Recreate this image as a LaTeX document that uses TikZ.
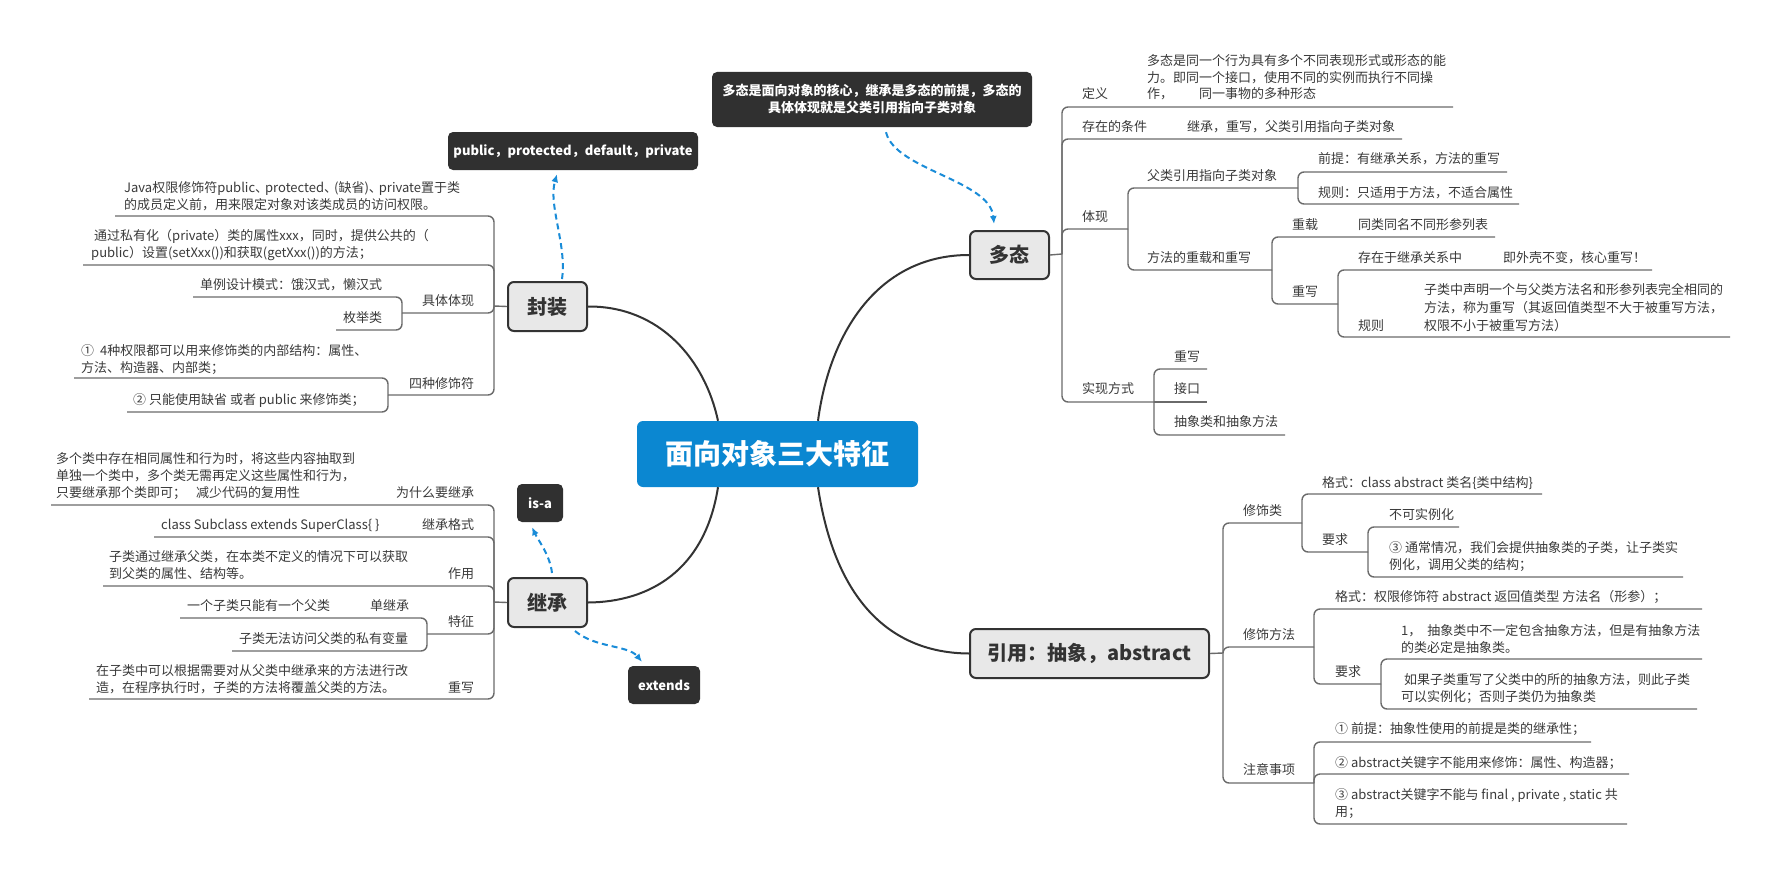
\documentclass[tikz,border=0pt]{standalone}
\usepackage{fontspec}
\setmainfont{Noto Sans CJK SC}
\usetikzlibrary{arrows.meta}
\definecolor{ctrblue}{HTML}{0B87D1}
\definecolor{arrblue}{HTML}{1A8CD8}
\definecolor{darkbox}{HTML}{303030}
\definecolor{mainfill}{HTML}{E8E8E8}
\definecolor{mainline}{HTML}{333333}
\definecolor{treeline}{HTML}{6A6A6A}
\definecolor{txt}{HTML}{3A3A3A}
\tikzset{
  lbl/.style={font=\fontsize{13}{17}\selectfont, text=txt, inner sep=0pt, anchor=base west, align=left},
  mainnode/.style={draw=mainline, line width=2pt, fill=mainfill, rounded corners=6pt, font=\fontsize{20}{24}\selectfont\bfseries, text=mainline, inner sep=0pt},
  darknode/.style={fill=darkbox, rounded corners=5pt, font=\fontsize{13}{17}\selectfont\bfseries, text=white, inner sep=0pt, align=center},
  tree/.style={draw=treeline, line width=1.4pt, rounded corners=6pt},
  curve/.style={draw=mainline, line width=2pt},
  dasharrow/.style={draw=arrblue, line width=2pt, dash pattern=on 6pt off 4pt, -{Latex[length=8pt,width=7pt]}},
}
\begin{document}
\begin{tikzpicture}[x=1pt,y=-1pt]
\useasboundingbox (0,0) rectangle (1780,875);
\fill[white] (0,0) rectangle (1780,875);

% ---------- main nodes ----------
\node[fill=ctrblue, rounded corners=6pt, minimum width=281pt, minimum height=66pt, inner sep=0pt, font=\fontsize{28}{32}\selectfont\bfseries, text=white] (root) at (777.5,454) {面向对象三大特征};
\node[mainnode, minimum width=79pt, minimum height=49pt] (fz) at (547.5,306.5) {封装};
\node[mainnode, minimum width=79pt, minimum height=49pt] (jc) at (547.5,602.5) {继承};
\node[mainnode, minimum width=79pt, minimum height=48pt] (dt) at (1009.5,255) {多态};
\node[mainnode, minimum width=239pt, minimum height=49pt] (yy) at (1089.5,653.5) {引用：抽象，abstract};

\node[darknode, minimum width=320pt, minimum height=55pt] (note) at (872,99.5) {多态是面向对象的核心，继承是多态的前提，多态的\\具体体现就是父类引用指向子类对象};
\node[darknode, minimum width=250pt, minimum height=38pt] (pub) at (573,151) {public，protected，default，private};
\node[darknode, minimum width=46pt, minimum height=38pt] (isa) at (540,503) {is-a};
\node[darknode, minimum width=72pt, minimum height=38pt] (ext) at (664,685) {extends};

% ---------- main curves ----------
\draw[curve] ([xshift=-59.5pt]root.north) .. controls (705,360) and (660,306) .. (fz.east);
\draw[curve] ([xshift=40.5pt]root.north) .. controls (830,330) and (880,255) .. (dt.west);
\draw[curve] ([xshift=-59.5pt]root.south) .. controls (705,570) and (650,602) .. (jc.east);
\draw[curve] ([xshift=40.5pt]root.south) .. controls (835,600) and (890,653) .. (yy.west);

% ---------- dashed arrows ----------
\draw[dasharrow] ([xshift=14pt,yshift=-5pt]note.south) .. controls (895,170) and (990,180) .. ([xshift=-15.5pt,yshift=6pt]dt.north);
\draw[dasharrow] ([xshift=14.5pt,yshift=2pt]fz.north) .. controls (567,245) and (548,205) .. ([xshift=-16pt,yshift=-4pt]pub.south);
\draw[dasharrow] ([xshift=4.5pt,yshift=4pt]jc.north) .. controls (550,555) and (538,540) .. ([xshift=-8pt,yshift=-5pt]isa.south);
\draw[dasharrow] ([xshift=27.5pt,yshift=-3pt]jc.south) .. controls (595,648) and (628,645) .. ([xshift=-22pt,yshift=4pt]ext.north);

% ---------- 封装 ----------
\coordinate (fzJ) at (494,306);
\draw[tree] (fz.west) -- (fzJ);
\node[lbl] (fz1) at (124,209) {Java权限修饰符public、\kern-3pt protected、\kern-3pt(缺省)、\kern-3pt private置于类\\的成员定义前，用来限定对象对该类成员的访问权限。};
\draw[tree] (fzJ) |- (115,216);
\node[lbl] (fz2) at (91,257) {\hspace*{3pt}通过私有化（private）类的属性xxx，同时，提供公共的（\\public）设置(setXxx())和获取(getXxx())的方法；};
\draw[tree] (fzJ) |- (83,265);
\node[lbl] (fz3) at (422,305) {具体体现};
\draw[tree] (fzJ) |- (402,313) coordinate (fz3J);
\node[lbl] (fz31) at (200,289) {单例设计模式：饿汉式，懒汉式};
\draw[tree] (fz3J) |- (193,297);
\node[lbl] (fz32) at (343,322) {枚举类};
\draw[tree] (fz3J) |- (336,330);
\node[lbl] (fz4) at (409,388) {四种修饰符};
\draw[tree] (fzJ) |- (388,395) coordinate (fz4J);
\node[lbl] (fz41) at (81,372) {①\hspace{6pt}4种权限都可以用来修饰类的内部结构：属性、\\方法、构造器、内部类；};
\draw[tree] (fz4J) |- (74,378);
\node[lbl] (fz42) at (133,404) {② 只能使用缺省 或者 public 来修饰类；};
\draw[tree] (fz4J) |- (127,412);

% ---------- 继承 ----------
\coordinate (jcJ) at (494,602);
\draw[tree] (jc.west) -- (jcJ);
\node[lbl] (jc1) at (56,497) {多个类中存在相同属性和行为时，将这些内容抽取到\\单独一个类中，多个类无需再定义这些属性和行为，\\只要继承那个类即可；\hspace{10pt}减少代码的复用性};
\node[lbl] (jc1l) at (396,497) {为什么要继承};
\draw[tree] (jcJ) |- (51,505);
\node[lbl] (jc2) at (161,529) {class Subclass extends SuperClass\{ \}};
\node[lbl] (jc2l) at (422,529) {继承格式};
\draw[tree] (jcJ) |- (154,537);
\node[lbl] (jc3) at (109,578) {子类通过继承父类，在本类不定义的情况下可以获取\\到父类的属性、结构等。};
\node[lbl] (jc3l) at (448,578) {作用};
\draw[tree] (jcJ) |- (103,586);
\node[lbl] (jc4l) at (448,626) {特征};
\draw[tree] (jcJ) |- (427,634) coordinate (jc4J);
\node[lbl] (jc41) at (187,610) {一个子类只能有一个父类};
\node[lbl] (jc41l) at (370,610) {单继承};
\draw[tree] (jc4J) |- (180,618);
\node[lbl] (jc42) at (239,643) {子类无法访问父类的私有变量};
\draw[tree] (jc4J) |- (232,651);
\node[lbl] (jc5) at (96,692) {在子类中可以根据需要对从父类中继承来的方法进行改\\造，在程序执行时，子类的方法将覆盖父类的方法。};
\node[lbl] (jc5l) at (448,692) {重写};
\draw[tree] (jcJ) |- (89,699);

% ---------- 多态 ----------
\coordinate (dtJ) at (1062,254);
\draw[tree] (dt.east) -- (dtJ);
\node[lbl] (d1l) at (1082,99) {定义};
\node[lbl, font=\fontsize{13}{16.5}\selectfont] (d1) at (1147,99) {多态是同一个行为具有多个不同表现形式或形态的能\\力。即同一个接口，使用不同的实例而执行不同操\\作，\hspace{26pt}同一事物的多种形态};
\draw[tree] (dtJ) |- (1453,107);
\node[lbl] (d2l) at (1082,131) {存在的条件};
\node[lbl] (d2) at (1187,131) {继承，重写，父类引用指向子类对象};
\draw[tree] (dtJ) |- (1402,139);
\node[lbl] (d3l) at (1082,221) {体现};
\draw[tree] (dtJ) |- (1128,229) coordinate (d3J);
\node[lbl] (d31l) at (1147,180) {父类引用指向子类对象};
\draw[tree] (d3J) |- (1298,188) coordinate (d31J);
\node[lbl] (d311) at (1318,163) {前提：有继承关系，方法的重写};
\draw[tree] (d31J) |- (1507,172);
\node[lbl] (d312) at (1318,197) {规则：只适用于方法，不适合属性};
\draw[tree] (d31J) |- (1519,204);
\node[lbl] (d32l) at (1147,262) {方法的重载和重写};
\draw[tree] (d3J) |- (1272,270) coordinate (d32J);
\node[lbl] (d321l) at (1292,229) {重载};
\node[lbl] (d321) at (1358,229) {同类同名不同形参列表};
\draw[tree] (d32J) |- (1495,237);
\node[lbl] (d322l) at (1292,296) {重写};
\draw[tree] (d32J) |- (1338,304) coordinate (d322J);
\node[lbl] (d3221l) at (1358,262) {存在于继承关系中};
\node[lbl] (d3221) at (1503,262) {即外壳不变，核心重写！};
\draw[tree] (d322J) |- (1652,270);
\node[lbl] (d3222l) at (1358,330) {规则};
\node[lbl, font=\fontsize{13}{18}\selectfont] (d3222) at (1424,330) {子类中声明一个与父类方法名和形参列表完全相同的\\方法，称为重写（其返回值类型不大于被重写方法，\\权限不小于被重写方法）};
\draw[tree] (d322J) |- (1730,337);
\node[lbl] (d4l) at (1082,393) {实现方式};
\draw[tree] (dtJ) |- (1154,402) coordinate (d4J);
\node[lbl] (d41) at (1174,361) {重写};
\draw[tree] (d4J) |- (1207,369);
\node[lbl] (d42) at (1174,393) {接口};
\draw[tree] (d4J) -- (1207,402);
\node[lbl] (d43) at (1174,426) {抽象类和抽象方法};
\draw[tree] (d4J) |- (1285,435);

% ---------- 引用 ----------
\coordinate (yyJ) at (1223,653);
\draw[tree] (yy.east) -- (yyJ);
\node[lbl] (y1l) at (1243,515) {修饰类};
\draw[tree] (yyJ) |- (1302,523) coordinate (y1J);
\node[lbl] (y11) at (1322,487) {格式：class abstract 类名\{类中结构\}};
\draw[tree] (y1J) |- (1542,494);
\node[lbl] (y12l) at (1322,544) {要求};
\draw[tree] (y1J) |- (1368,552) coordinate (y12J);
\node[lbl] (y121) at (1389,519) {不可实例化};
\draw[tree] (y12J) |- (1459,527);
\node[lbl] (y122) at (1389,569) {③ 通常情况，我们会提供抽象类的子类，让子类实\\例化，调用父类的结构；};
\draw[tree] (y12J) |- (1683,577);
\node[lbl] (y2l) at (1243,639) {修饰方法};
\draw[tree] (yyJ) |- (1314,647) coordinate (y2J);
\node[lbl] (y21) at (1335,601) {格式：权限修饰符 abstract 返回值类型 方法名（形参）；};
\draw[tree] (y2J) |- (1702,609);
\node[lbl] (y22l) at (1335,676) {要求};
\draw[tree] (y2J) |- (1381,684) coordinate (y22J);
\node[lbl] (y221) at (1401,652) {1，\hspace{6pt}抽象类中不一定包含抽象方法，但是有抽象方法\\的类必定是抽象类。};
\draw[tree] (y22J) |- (1702,659);
\node[lbl] (y222) at (1401,701) {\hspace*{3pt}如果子类重写了父类中的所的抽象方法，则此子类\\可以实例化；否则子类仍为抽象类};
\draw[tree] (y22J) |- (1697,709);
\node[lbl] (y3l) at (1243,774) {注意事项};
\draw[tree] (yyJ) |- (1314,783) coordinate (y3J);
\node[lbl] (y31) at (1335,733) {① 前提：抽象性使用的前提是类的继承性；};
\draw[tree] (y3J) |- (1591,742);
\node[lbl] (y32) at (1335,767) {② abstract关键字不能用来修饰：属性、构造器；};
\draw[tree] (y3J) |- (1629,774);
\node[lbl] (y33) at (1335,816) {③ abstract关键字不能与 final , private , static 共\\用；};
\draw[tree] (y3J) |- (1627,824);
\end{tikzpicture}
\end{document}
